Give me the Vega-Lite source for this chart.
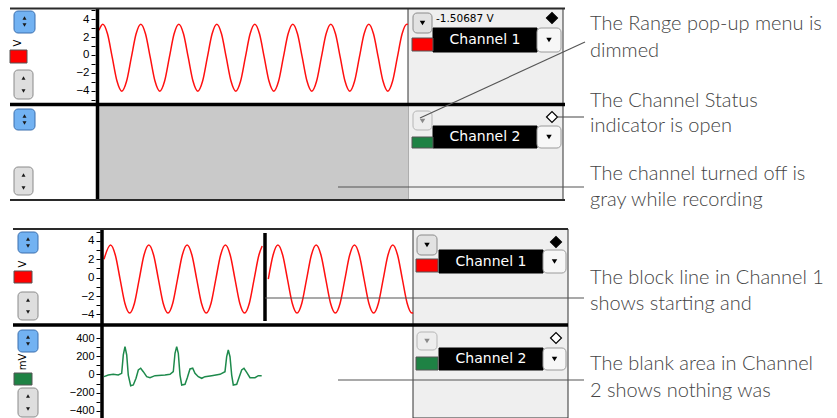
{
  "$schema": "https://vega.github.io/schema/vega-lite/v6.json",
  "width": 837,
  "height": 418,
  "autosize": {"type": "none"},
  "padding": 0,
  "background": "white",
  "config": {"view": {"stroke": null}},
  "datasets": {
    "boxes": [
      {"x": 408, "x2": 563, "y": 8.5, "y2": 200, "kind": "panel"},
      {"x": 413, "x2": 568, "y": 229, "y2": 418, "kind": "panel"},
      {"x": 99.5, "x2": 408, "y": 106, "y2": 199.5, "kind": "off"},
      {"x": 433, "x2": 537, "y": 28, "y2": 52, "kind": "namebox"},
      {"x": 433, "x2": 537, "y": 126, "y2": 148, "kind": "namebox"},
      {"x": 439, "x2": 543, "y": 250, "y2": 273, "kind": "namebox"},
      {"x": 439, "x2": 543, "y": 348, "y2": 370, "kind": "namebox"},
      {"x": 412, "x2": 433, "y": 38, "y2": 51, "kind": "red"},
      {"x": 412, "x2": 433, "y": 137, "y2": 148, "kind": "green"},
      {"x": 416, "x2": 438, "y": 259, "y2": 272, "kind": "red"},
      {"x": 416, "x2": 438, "y": 357, "y2": 370, "kind": "green"},
      {"x": 10, "x2": 27, "y": 50, "y2": 63, "kind": "red"},
      {"x": 14, "x2": 32, "y": 271, "y2": 283, "kind": "red"},
      {"x": 14, "x2": 32, "y": 373, "y2": 385, "kind": "green"},
      {"x": 537, "x2": 561, "y": 28, "y2": 52, "kind": "dropdown"},
      {"x": 537, "x2": 561, "y": 126, "y2": 148, "kind": "dropdown"},
      {"x": 543, "x2": 566, "y": 250, "y2": 273, "kind": "dropdown"},
      {"x": 543, "x2": 566, "y": 348, "y2": 370, "kind": "dropdown"},
      {"x": 413, "x2": 432, "y": 13, "y2": 33, "kind": "range"},
      {"x": 413, "x2": 432, "y": 111, "y2": 130, "kind": "range_dim"},
      {"x": 417, "x2": 437, "y": 235, "y2": 255, "kind": "range"},
      {"x": 417, "x2": 437, "y": 332, "y2": 350, "kind": "range_dim"},
      {"x": 14, "x2": 35, "y": 11, "y2": 33, "kind": "blue"},
      {"x": 14, "x2": 35, "y": 109, "y2": 130, "kind": "blue"},
      {"x": 18, "x2": 38, "y": 232, "y2": 253, "kind": "blue"},
      {"x": 18, "x2": 38, "y": 330, "y2": 352, "kind": "blue"},
      {"x": 14, "x2": 33, "y": 70, "y2": 99, "kind": "gray"},
      {"x": 14, "x2": 33, "y": 167, "y2": 195, "kind": "gray"},
      {"x": 18, "x2": 38, "y": 292, "y2": 320, "kind": "gray"},
      {"x": 18, "x2": 38, "y": 388, "y2": 417, "kind": "gray"}
    ],
    "rules": [
      {"x": 10, "x2": 565, "y": 104.5, "y2": 104.5, "kind": "thick"},
      {"x": 97.5, "x2": 97.5, "y": 8, "y2": 200, "kind": "thick"},
      {"x": 13, "x2": 568, "y": 325, "y2": 325, "kind": "thick"},
      {"x": 102, "x2": 102, "y": 229, "y2": 418, "kind": "thick"},
      {"x": 265, "x2": 265, "y": 233, "y2": 321, "kind": "thick"},
      {"x": 10, "x2": 565, "y": 8.5, "y2": 8.5, "kind": "frame"},
      {"x": 10, "x2": 565, "y": 200, "y2": 200, "kind": "frame"},
      {"x": 13, "x2": 568, "y": 229, "y2": 229, "kind": "frame"},
      {"x": 420, "x2": 585, "y": 118, "y2": 42, "kind": "leader"},
      {"x": 558, "x2": 584, "y": 117, "y2": 117, "kind": "leader"},
      {"x": 338, "x2": 584, "y": 187, "y2": 187, "kind": "leader"},
      {"x": 265, "x2": 584, "y": 298, "y2": 298, "kind": "leader"},
      {"x": 338, "x2": 584, "y": 380, "y2": 380, "kind": "leader"}
    ],
    "arrows": [
      {"x": 549, "y": 40, "dir": "down", "tone": "black", "group": "menu"},
      {"x": 549, "y": 137, "dir": "down", "tone": "black", "group": "menu"},
      {"x": 554.5, "y": 261.5, "dir": "down", "tone": "black", "group": "menu"},
      {"x": 554.5, "y": 359, "dir": "down", "tone": "black", "group": "menu"},
      {"x": 422.5, "y": 23, "dir": "down", "tone": "black", "group": "menu"},
      {"x": 422.5, "y": 121, "dir": "down", "tone": "gray", "group": "menu"},
      {"x": 427, "y": 245, "dir": "down", "tone": "black", "group": "menu"},
      {"x": 427, "y": 341, "dir": "down", "tone": "gray", "group": "menu"},
      {"x": 24.5, "y": 18, "dir": "up", "tone": "black", "group": "scroll"},
      {"x": 24.5, "y": 25, "dir": "down", "tone": "black", "group": "scroll"},
      {"x": 24.5, "y": 116, "dir": "up", "tone": "black", "group": "scroll"},
      {"x": 24.5, "y": 123, "dir": "down", "tone": "black", "group": "scroll"},
      {"x": 28, "y": 239, "dir": "up", "tone": "black", "group": "scroll"},
      {"x": 28, "y": 246, "dir": "down", "tone": "black", "group": "scroll"},
      {"x": 28, "y": 337, "dir": "up", "tone": "black", "group": "scroll"},
      {"x": 28, "y": 344, "dir": "down", "tone": "black", "group": "scroll"},
      {"x": 23.5, "y": 78, "dir": "up", "tone": "black", "group": "scroll"},
      {"x": 23.5, "y": 91, "dir": "down", "tone": "black", "group": "scroll"},
      {"x": 23.5, "y": 175, "dir": "up", "tone": "black", "group": "scroll"},
      {"x": 23.5, "y": 188, "dir": "down", "tone": "black", "group": "scroll"},
      {"x": 28, "y": 300, "dir": "up", "tone": "black", "group": "scroll"},
      {"x": 28, "y": 312, "dir": "down", "tone": "black", "group": "scroll"},
      {"x": 28, "y": 396, "dir": "up", "tone": "black", "group": "scroll"},
      {"x": 28, "y": 409, "dir": "down", "tone": "black", "group": "scroll"}
    ],
    "status": [
      {"x": 552, "y": 18, "status": "on"},
      {"x": 552, "y": 117, "status": "off"},
      {"x": 556, "y": 242, "status": "on"},
      {"x": 556, "y": 338, "status": "off"}
    ],
    "names": [
      {"x": 485, "y": 40, "label": "Channel 1"},
      {"x": 485, "y": 137, "label": "Channel 2"},
      {"x": 491, "y": 261.5, "label": "Channel 1"},
      {"x": 491, "y": 359, "label": "Channel 2"}
    ],
    "reading": [{"x": 436, "y": 19, "label": "-1.50687 V"}],
    "units": [
      {"x": 18, "y": 43, "label": "V"},
      {"x": 23, "y": 264, "label": "V"},
      {"x": 23, "y": 362, "label": "mV"}
    ],
    "notes": [
      {"x": 590, "y": 29.5, "label": "The Range pop-up menu is"},
      {"x": 590, "y": 56.5, "label": "dimmed"},
      {"x": 590, "y": 106.5, "label": "The Channel Status"},
      {"x": 590, "y": 132, "label": "indicator is open"},
      {"x": 590, "y": 180, "label": "The channel turned off is"},
      {"x": 590, "y": 205.5, "label": "gray while recording"},
      {"x": 590, "y": 283.5, "label": "The block line in Channel 1"},
      {"x": 590, "y": 310, "label": "shows starting and"},
      {"x": 590, "y": 370, "label": "The blank area in Channel"},
      {"x": 590, "y": 396.5, "label": "2 shows nothing was"}
    ],
    "top_ch1": [
      {"t": 0, "v": 2.78},
      {"t": 0.1, "v": 3.45}, {"t": 0.225, "v": 2.35}, {"t": 0.35, "v": -0.3}, {"t": 0.475, "v": -2.95}, {"t": 0.6, "v": -4.05}, {"t": 0.725, "v": -2.95}, {"t": 0.85, "v": -0.3}, {"t": 0.975, "v": 2.35},
      {"t": 1.1, "v": 3.45}, {"t": 1.225, "v": 2.35}, {"t": 1.35, "v": -0.3}, {"t": 1.475, "v": -2.95}, {"t": 1.6, "v": -4.05}, {"t": 1.725, "v": -2.95}, {"t": 1.85, "v": -0.3}, {"t": 1.975, "v": 2.35},
      {"t": 2.1, "v": 3.45}, {"t": 2.225, "v": 2.35}, {"t": 2.35, "v": -0.3}, {"t": 2.475, "v": -2.95}, {"t": 2.6, "v": -4.05}, {"t": 2.725, "v": -2.95}, {"t": 2.85, "v": -0.3}, {"t": 2.975, "v": 2.35},
      {"t": 3.1, "v": 3.45}, {"t": 3.225, "v": 2.35}, {"t": 3.35, "v": -0.3}, {"t": 3.475, "v": -2.95}, {"t": 3.6, "v": -4.05}, {"t": 3.725, "v": -2.95}, {"t": 3.85, "v": -0.3}, {"t": 3.975, "v": 2.35},
      {"t": 4.1, "v": 3.45}, {"t": 4.225, "v": 2.35}, {"t": 4.35, "v": -0.3}, {"t": 4.475, "v": -2.95}, {"t": 4.6, "v": -4.05}, {"t": 4.725, "v": -2.95}, {"t": 4.85, "v": -0.3}, {"t": 4.975, "v": 2.35},
      {"t": 5.1, "v": 3.45}, {"t": 5.225, "v": 2.35}, {"t": 5.35, "v": -0.3}, {"t": 5.475, "v": -2.95}, {"t": 5.6, "v": -4.05}, {"t": 5.725, "v": -2.95}, {"t": 5.85, "v": -0.3}, {"t": 5.975, "v": 2.35},
      {"t": 6.1, "v": 3.45}, {"t": 6.225, "v": 2.35}, {"t": 6.35, "v": -0.3}, {"t": 6.475, "v": -2.95}, {"t": 6.6, "v": -4.05}, {"t": 6.725, "v": -2.95}, {"t": 6.85, "v": -0.3}, {"t": 6.975, "v": 2.35},
      {"t": 7.1, "v": 3.45}, {"t": 7.225, "v": 2.35}, {"t": 7.35, "v": -0.3}, {"t": 7.475, "v": -2.95}, {"t": 7.6, "v": -4.05}, {"t": 7.725, "v": -2.95}, {"t": 7.85, "v": -0.3}, {"t": 7.975, "v": 2.35},
      {"t": 8.1, "v": 3.45}, {"t": 8.13, "v": 3.43}
    ],
    "bottom_ch1": [
      {"t": 0, "v": 2.0, "seg": "a"},
      {"t": 0.17, "v": 3.55, "seg": "a"}, {"t": 0.295, "v": 2.47, "seg": "a"}, {"t": 0.42, "v": -0.15, "seg": "a"}, {"t": 0.545, "v": -2.77, "seg": "a"}, {"t": 0.67, "v": -3.85, "seg": "a"}, {"t": 0.795, "v": -2.77, "seg": "a"}, {"t": 0.92, "v": -0.15, "seg": "a"}, {"t": 1.045, "v": 2.47, "seg": "a"},
      {"t": 1.17, "v": 3.55, "seg": "a"}, {"t": 1.295, "v": 2.47, "seg": "a"}, {"t": 1.42, "v": -0.15, "seg": "a"}, {"t": 1.545, "v": -2.77, "seg": "a"}, {"t": 1.67, "v": -3.85, "seg": "a"}, {"t": 1.795, "v": -2.77, "seg": "a"}, {"t": 1.92, "v": -0.15, "seg": "a"}, {"t": 2.045, "v": 2.47, "seg": "a"},
      {"t": 2.17, "v": 3.55, "seg": "a"}, {"t": 2.295, "v": 2.47, "seg": "a"}, {"t": 2.42, "v": -0.15, "seg": "a"}, {"t": 2.545, "v": -2.77, "seg": "a"}, {"t": 2.67, "v": -3.85, "seg": "a"}, {"t": 2.795, "v": -2.77, "seg": "a"}, {"t": 2.92, "v": -0.15, "seg": "a"}, {"t": 3.045, "v": 2.47, "seg": "a"},
      {"t": 3.17, "v": 3.55, "seg": "a"}, {"t": 3.295, "v": 2.47, "seg": "a"}, {"t": 3.42, "v": -0.15, "seg": "a"}, {"t": 3.545, "v": -2.77, "seg": "a"}, {"t": 3.67, "v": -3.85, "seg": "a"}, {"t": 3.795, "v": -2.77, "seg": "a"}, {"t": 3.92, "v": -0.15, "seg": "a"}, {"t": 4.045, "v": 2.47, "seg": "a"},
      {"t": 4.13, "v": 3.45, "seg": "a"},
      {"t": 4.29, "v": -0.15, "seg": "b"}, {"t": 4.415, "v": 2.47, "seg": "b"},
      {"t": 4.54, "v": 3.55, "seg": "b"}, {"t": 4.665, "v": 2.47, "seg": "b"}, {"t": 4.79, "v": -0.15, "seg": "b"}, {"t": 4.915, "v": -2.77, "seg": "b"}, {"t": 5.04, "v": -3.85, "seg": "b"}, {"t": 5.165, "v": -2.77, "seg": "b"}, {"t": 5.29, "v": -0.15, "seg": "b"}, {"t": 5.415, "v": 2.47, "seg": "b"},
      {"t": 5.54, "v": 3.55, "seg": "b"}, {"t": 5.665, "v": 2.47, "seg": "b"}, {"t": 5.79, "v": -0.15, "seg": "b"}, {"t": 5.915, "v": -2.77, "seg": "b"}, {"t": 6.04, "v": -3.85, "seg": "b"}, {"t": 6.165, "v": -2.77, "seg": "b"}, {"t": 6.29, "v": -0.15, "seg": "b"}, {"t": 6.415, "v": 2.47, "seg": "b"},
      {"t": 6.54, "v": 3.55, "seg": "b"}, {"t": 6.665, "v": 2.47, "seg": "b"}, {"t": 6.79, "v": -0.15, "seg": "b"}, {"t": 6.915, "v": -2.77, "seg": "b"}, {"t": 7.04, "v": -3.85, "seg": "b"}, {"t": 7.165, "v": -2.77, "seg": "b"}, {"t": 7.29, "v": -0.15, "seg": "b"}, {"t": 7.415, "v": 2.47, "seg": "b"},
      {"t": 7.54, "v": 3.55, "seg": "b"}, {"t": 7.665, "v": 2.47, "seg": "b"}, {"t": 7.79, "v": -0.15, "seg": "b"}, {"t": 7.915, "v": -2.77, "seg": "b"}, {"t": 8.04, "v": -3.85, "seg": "b"}, {"t": 8.07, "v": -3.8, "seg": "b"}
    ],
    "bottom_ch2": [
      {"t": 0, "v": -24}, {"t": 0.112, "v": -6}, {"t": 0.243, "v": 2}, {"t": 0.373, "v": -6}, {"t": 0.462, "v": 13},
      {"t": 0.504, "v": 216}, {"t": 0.548, "v": 308}, {"t": 0.593, "v": 216}, {"t": 0.634, "v": -6}, {"t": 0.697, "v": -124},
      {"t": 0.765, "v": -116}, {"t": 0.836, "v": -42}, {"t": 0.896, "v": 50}, {"t": 0.958, "v": 69}, {"t": 1.026, "v": 31},
      {"t": 1.115, "v": -24}, {"t": 1.201, "v": -35}, {"t": 1.332, "v": -13}, {"t": 1.593, "v": -6}, {"t": 1.723, "v": 2},
      {"t": 1.809, "v": 31}, {"t": 1.854, "v": 235}, {"t": 1.898, "v": 308}, {"t": 1.94, "v": 235}, {"t": 1.984, "v": -6},
      {"t": 2.029, "v": -116}, {"t": 2.115, "v": -108}, {"t": 2.175, "v": -35}, {"t": 2.245, "v": 61}, {"t": 2.316, "v": 69},
      {"t": 2.376, "v": 13}, {"t": 2.462, "v": -24}, {"t": 2.551, "v": -42}, {"t": 2.637, "v": -24}, {"t": 2.812, "v": -13},
      {"t": 3.029, "v": 2}, {"t": 3.159, "v": 31}, {"t": 3.203, "v": 197}, {"t": 3.245, "v": 271}, {"t": 3.29, "v": 197},
      {"t": 3.334, "v": -6}, {"t": 3.376, "v": -116}, {"t": 3.465, "v": -108}, {"t": 3.533, "v": -24}, {"t": 3.595, "v": 50},
      {"t": 3.655, "v": 69}, {"t": 3.726, "v": 24}, {"t": 3.812, "v": -35}, {"t": 3.943, "v": -35}, {"t": 4.029, "v": -13},
      {"t": 4.117, "v": -13}
    ]
  },
  "layer": [
    {
      "data": {"name": "boxes"},
      "transform": [{"filter": {"field": "kind", "oneOf": ["panel", "off", "namebox", "red", "green"]}}],
      "mark": {"type": "rect", "strokeWidth": 1},
      "encoding": {
        "x": {"field": "x", "type": "quantitative", "scale": {"domain": [0, 837], "nice": false, "zero": false}, "axis": null},
        "x2": {"field": "x2"},
        "y": {"field": "y", "type": "quantitative", "scale": {"domain": [0, 418], "nice": false, "zero": false, "reverse": true}, "axis": null},
        "y2": {"field": "y2"},
        "fill": {"field": "kind", "type": "nominal", "scale": {"domain": ["panel", "off", "namebox", "red", "green"], "range": ["#efefef", "#c9c9c9", "#000000", "#ff0000", "#1e8244"]}, "legend": null},
        "stroke": {"field": "kind", "type": "nominal", "scale": {"domain": ["panel", "off", "namebox", "red", "green"], "range": ["#333333", "#c9c9c9", "#000000", "#555555", "#555555"]}, "legend": null}
      }
    },
    {
      "data": {"name": "boxes"},
      "transform": [{"filter": {"field": "kind", "oneOf": ["dropdown", "range", "range_dim", "blue", "gray"]}}],
      "mark": {"type": "rect", "strokeWidth": 1, "cornerRadius": 4},
      "encoding": {
        "x": {"field": "x", "type": "quantitative", "scale": {"domain": [0, 837], "nice": false, "zero": false}, "axis": null},
        "x2": {"field": "x2"},
        "y": {"field": "y", "type": "quantitative", "scale": {"domain": [0, 418], "nice": false, "zero": false, "reverse": true}, "axis": null},
        "y2": {"field": "y2"},
        "fill": {"field": "kind", "type": "nominal", "scale": {"domain": ["dropdown", "range", "range_dim", "blue", "gray"], "range": ["#f7f7f7", "#e2e2e2", "#ededed", "#72b2f2", "#dedede"]}, "legend": null},
        "stroke": {"field": "kind", "type": "nominal", "scale": {"domain": ["dropdown", "range", "range_dim", "blue", "gray"], "range": ["#9a9a9a", "#8a8a8a", "#b5b5b5", "#3b6fae", "#8a8a8a"]}, "legend": null}
      }
    },
    {
      "data": {"name": "top_ch1"},
      "mark": {"type": "line", "color": "#ff1010", "strokeWidth": 1.5, "interpolate": "monotone"},
      "encoding": {
        "x": {"field": "t", "type": "quantitative", "scale": {"domain": [-2.6053, 19.4211], "nice": false, "zero": false}, "axis": null},
        "y": {"field": "v", "type": "quantitative", "scale": {"domain": [-40.67, 6.162], "nice": false, "zero": false},
          "axis": {"orient": "left", "offset": -95, "values": [-5, -4, -3, -2, -1, 0, 1, 2, 3, 4, 5], "labelExpr": "datum.value % 2 == 0 ? datum.label : ''", "domain": false, "grid": false, "ticks": true, "tickSize": 4, "tickColor": "#000000", "labelFont": "Liberation Sans", "labelFontSize": 11.5, "labelColor": "#000000", "labelPadding": 2, "title": null, "labelOverlap": false}}
      }
    },
    {
      "data": {"name": "bottom_ch1"},
      "mark": {"type": "line", "color": "#ff1010", "strokeWidth": 1.5, "interpolate": "monotone"},
      "encoding": {
        "x": {"field": "t", "type": "quantitative", "scale": {"domain": [-2.7154, 19.1384], "nice": false, "zero": false}, "axis": null},
        "y": {"field": "v", "type": "quantitative", "scale": {"domain": [-15.25, 30.18], "nice": false, "zero": false},
          "axis": {"orient": "left", "offset": -100, "values": [-5, -4, -3, -2, -1, 0, 1, 2, 3, 4, 5], "labelExpr": "datum.value % 2 == 0 ? datum.label : ''", "domain": false, "grid": false, "ticks": true, "tickSize": 4, "tickColor": "#000000", "labelFont": "Liberation Sans", "labelFontSize": 11.5, "labelColor": "#000000", "labelPadding": 2, "title": null, "labelOverlap": false}},
        "detail": {"field": "seg", "type": "nominal"}
      }
    },
    {
      "data": {"name": "bottom_ch2"},
      "mark": {"type": "line", "color": "#1e8a4c", "strokeWidth": 1.5},
      "encoding": {
        "x": {"field": "t", "type": "quantitative", "scale": {"domain": [-2.7154, 19.1384], "nice": false, "zero": false}, "axis": null},
        "y": {"field": "v", "type": "quantitative", "scale": {"domain": [-481.2, 4142.7], "nice": false, "zero": false},
          "axis": {"orient": "left", "offset": -100, "values": [-400, -300, -200, -100, 0, 100, 200, 300, 400], "labelExpr": "datum.value % 200 == 0 ? datum.label : ''", "domain": false, "grid": false, "ticks": true, "tickSize": 4, "tickColor": "#000000", "labelFont": "Liberation Sans", "labelFontSize": 11, "labelColor": "#000000", "labelPadding": 2, "title": null, "labelOverlap": false}}
      }
    },
    {
      "data": {"name": "rules"},
      "transform": [{"filter": "datum.kind == 'thick'"}],
      "mark": {"type": "rule", "color": "#000000", "strokeWidth": 3.5},
      "encoding": {
        "x": {"field": "x", "type": "quantitative", "scale": {"domain": [0, 837], "nice": false, "zero": false}, "axis": null},
        "x2": {"field": "x2"},
        "y": {"field": "y", "type": "quantitative", "scale": {"domain": [0, 418], "nice": false, "zero": false, "reverse": true}, "axis": null},
        "y2": {"field": "y2"}
      }
    },
    {
      "data": {"name": "rules"},
      "transform": [{"filter": "datum.kind == 'frame'"}],
      "mark": {"type": "rule", "color": "#2a2a2a", "strokeWidth": 1.8},
      "encoding": {
        "x": {"field": "x", "type": "quantitative", "scale": {"domain": [0, 837], "nice": false, "zero": false}, "axis": null},
        "x2": {"field": "x2"},
        "y": {"field": "y", "type": "quantitative", "scale": {"domain": [0, 418], "nice": false, "zero": false, "reverse": true}, "axis": null},
        "y2": {"field": "y2"}
      }
    },
    {
      "data": {"name": "rules"},
      "transform": [{"filter": "datum.kind == 'leader'"}],
      "mark": {"type": "rule", "color": "#555555", "strokeWidth": 1.1},
      "encoding": {
        "x": {"field": "x", "type": "quantitative", "scale": {"domain": [0, 837], "nice": false, "zero": false}, "axis": null},
        "x2": {"field": "x2"},
        "y": {"field": "y", "type": "quantitative", "scale": {"domain": [0, 418], "nice": false, "zero": false, "reverse": true}, "axis": null},
        "y2": {"field": "y2"}
      }
    },
    {
      "data": {"name": "arrows"},
      "transform": [{"filter": "datum.group == 'menu'"}],
      "mark": {"type": "point", "filled": true, "size": 30, "strokeWidth": 0, "opacity": 1},
      "encoding": {
        "x": {"field": "x", "type": "quantitative", "scale": {"domain": [0, 837], "nice": false, "zero": false}, "axis": null},
        "y": {"field": "y", "type": "quantitative", "scale": {"domain": [0, 418], "nice": false, "zero": false, "reverse": true}, "axis": null},
        "shape": {"field": "dir", "type": "nominal", "scale": {"domain": ["up", "down"], "range": ["triangle-up", "triangle-down"]}, "legend": null},
        "fill": {"field": "tone", "type": "nominal", "scale": {"domain": ["black", "gray"], "range": ["#000000", "#8a8a8a"]}, "legend": null}
      }
    },
    {
      "data": {"name": "arrows"},
      "transform": [{"filter": "datum.group == 'scroll'"}],
      "mark": {"type": "point", "filled": true, "size": 16, "strokeWidth": 0, "opacity": 1},
      "encoding": {
        "x": {"field": "x", "type": "quantitative", "scale": {"domain": [0, 837], "nice": false, "zero": false}, "axis": null},
        "y": {"field": "y", "type": "quantitative", "scale": {"domain": [0, 418], "nice": false, "zero": false, "reverse": true}, "axis": null},
        "shape": {"field": "dir", "type": "nominal", "scale": {"domain": ["up", "down"], "range": ["triangle-up", "triangle-down"]}, "legend": null},
        "fill": {"field": "tone", "type": "nominal", "scale": {"domain": ["black", "gray"], "range": ["#1a1a1a", "#8a8a8a"]}, "legend": null}
      }
    },
    {
      "data": {"name": "status"},
      "mark": {"type": "point", "shape": "diamond", "filled": true, "size": 120, "stroke": "#000000", "strokeWidth": 1.2, "opacity": 1},
      "encoding": {
        "x": {"field": "x", "type": "quantitative", "scale": {"domain": [0, 837], "nice": false, "zero": false}, "axis": null},
        "y": {"field": "y", "type": "quantitative", "scale": {"domain": [0, 418], "nice": false, "zero": false, "reverse": true}, "axis": null},
        "fill": {"field": "status", "type": "nominal", "scale": {"domain": ["on", "off"], "range": ["#000000", "#ffffff"]}, "legend": null}
      }
    },
    {
      "data": {"name": "names"},
      "mark": {"type": "text", "color": "#ffffff", "font": "DejaVu Sans", "fontSize": 14, "align": "center", "baseline": "middle"},
      "encoding": {
        "x": {"field": "x", "type": "quantitative", "scale": {"domain": [0, 837], "nice": false, "zero": false}, "axis": null},
        "y": {"field": "y", "type": "quantitative", "scale": {"domain": [0, 418], "nice": false, "zero": false, "reverse": true}, "axis": null},
        "text": {"field": "label"}
      }
    },
    {
      "data": {"name": "reading"},
      "mark": {"type": "text", "color": "#000000", "font": "DejaVu Sans", "fontSize": 10.5, "align": "left", "baseline": "middle"},
      "encoding": {
        "x": {"field": "x", "type": "quantitative", "scale": {"domain": [0, 837], "nice": false, "zero": false}, "axis": null},
        "y": {"field": "y", "type": "quantitative", "scale": {"domain": [0, 418], "nice": false, "zero": false, "reverse": true}, "axis": null},
        "text": {"field": "label"}
      }
    },
    {
      "data": {"name": "units"},
      "mark": {"type": "text", "color": "#000000", "font": "DejaVu Sans", "fontSize": 10, "align": "center", "baseline": "middle", "angle": 270},
      "encoding": {
        "x": {"field": "x", "type": "quantitative", "scale": {"domain": [0, 837], "nice": false, "zero": false}, "axis": null},
        "y": {"field": "y", "type": "quantitative", "scale": {"domain": [0, 418], "nice": false, "zero": false, "reverse": true}, "axis": null},
        "text": {"field": "label"}
      }
    },
    {
      "data": {"name": "notes"},
      "mark": {"type": "text", "color": "#444444", "font": "Lato", "fontWeight": 300, "fontSize": 20, "align": "left", "baseline": "alphabetic"},
      "encoding": {
        "x": {"field": "x", "type": "quantitative", "scale": {"domain": [0, 837], "nice": false, "zero": false}, "axis": null},
        "y": {"field": "y", "type": "quantitative", "scale": {"domain": [0, 418], "nice": false, "zero": false, "reverse": true}, "axis": null},
        "text": {"field": "label"}
      }
    }
  ],
  "resolve": {"scale": {"x": "independent", "y": "independent", "fill": "independent", "stroke": "independent", "shape": "independent", "color": "independent"}}
}
